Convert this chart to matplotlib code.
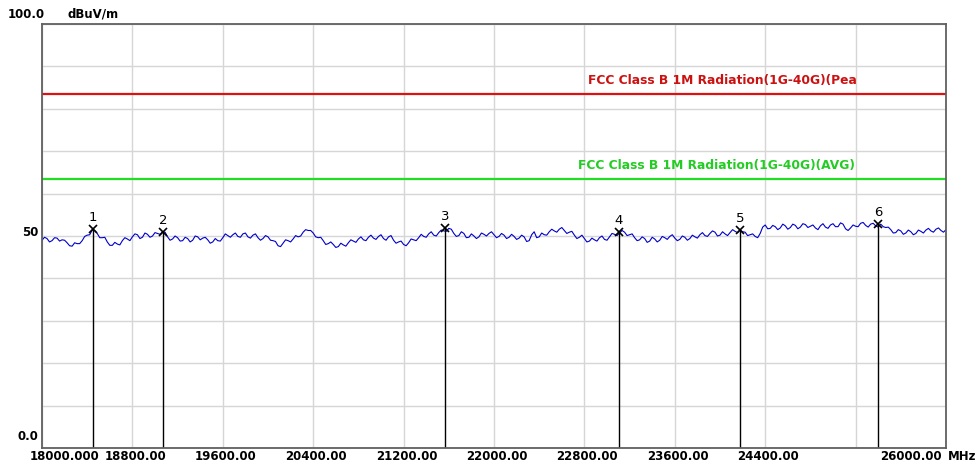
import numpy as np
import matplotlib.pyplot as plt

plt.rcParams['font.family'] = ['DejaVu Sans']

# sweep 18 GHz - 26 GHz, levels in dBuV/m
freq = np.linspace(18000, 26000, 361)
level = [
    49.0, 49.7, 49.4, 48.6, 48.9, 49.6, 49.5, 48.8, 49.1, 49.0,
    48.4, 47.7, 47.6, 48.4, 48.2, 48.2, 48.9, 49.9, 50.2, 50.3,
    51.4, 51.3, 50.6, 49.6, 49.6, 49.7, 48.6, 47.8, 47.8, 48.5,
    48.1, 47.9, 48.9, 49.6, 49.3, 48.9, 49.8, 50.5, 50.3, 49.4,
    49.7, 50.7, 50.4, 49.7, 50.0, 50.8, 50.6, 50.4, 51.0, 50.9,
    49.8, 49.0, 49.3, 50.0, 49.6, 48.8, 48.9, 49.7, 49.4, 48.6,
    49.0, 50.0, 49.8, 49.1, 49.5, 49.7, 49.1, 48.3, 48.6, 49.4,
    48.9, 48.8, 49.6, 50.5, 50.1, 49.7, 50.3, 50.7, 49.9, 49.7,
    50.5, 50.7, 49.8, 49.5, 50.2, 50.5, 49.6, 49.0, 49.4, 50.1,
    49.8, 49.0, 48.9, 48.7, 47.7, 47.5, 48.3, 49.1, 48.9, 48.6,
    49.3, 50.1, 49.8, 50.0, 50.9, 51.5, 51.3, 51.3, 50.7, 49.8,
    49.6, 49.7, 48.9, 48.0, 48.2, 48.6, 48.0, 47.3, 47.5, 48.3,
    47.9, 47.6, 48.4, 49.1, 48.8, 48.5, 49.3, 49.8, 49.1, 48.9,
    49.7, 50.2, 49.5, 49.2, 49.9, 50.3, 49.4, 49.0, 49.8, 50.1,
    49.0, 48.3, 48.6, 48.8, 48.0, 47.7, 48.4, 49.3, 49.1, 48.9,
    49.6, 50.4, 49.9, 49.7, 50.5, 51.0, 50.2, 50.0, 50.8, 51.4,
    51.2, 51.1, 51.8, 51.6, 50.6, 49.9, 50.1, 51.0, 50.6, 49.6,
    49.7, 50.5, 50.0, 49.4, 49.8, 50.7, 50.4, 50.0, 50.6, 51.0,
    50.3, 49.6, 49.9, 50.6, 50.2, 49.4, 49.7, 50.4, 49.9, 49.2,
    49.5, 50.2, 49.8, 48.7, 48.9, 50.3, 51.0, 49.6, 49.8, 50.7,
    50.3, 50.2, 51.0, 51.6, 51.2, 50.9, 51.6, 52.0, 51.3, 50.6,
    50.9, 51.1, 50.2, 49.4, 49.7, 50.2, 49.4, 48.6, 48.8, 49.5,
    49.1, 48.8, 49.6, 50.0, 49.2, 49.0, 49.8, 50.6, 50.4, 50.1,
    50.7, 51.3, 50.9, 50.1, 50.3, 50.5, 49.6, 48.9, 49.1, 49.8,
    49.4, 48.5, 48.8, 49.7, 49.3, 48.6, 49.0, 49.9, 49.6, 49.2,
    49.9, 50.3, 49.5, 48.9, 49.2, 50.0, 49.7, 49.0, 49.4, 50.2,
    49.8, 49.5, 50.3, 50.8, 50.1, 49.9, 50.6, 51.2, 50.9, 50.0,
    50.2, 51.0, 50.5, 50.1, 50.8, 51.5, 51.1, 50.8, 51.4, 51.0,
    50.9, 50.1, 50.3, 50.5, 49.9, 49.6, 50.6, 52.1, 52.6, 51.7,
    51.8, 52.5, 52.2, 51.5, 51.9, 52.8, 52.4, 51.6, 52.0, 52.8,
    52.5, 51.7, 52.1, 52.9, 52.7, 52.0, 52.3, 52.6, 51.9, 51.5,
    52.4, 52.9, 52.1, 51.8, 52.6, 52.9, 52.2, 52.2, 53.1, 52.8,
    51.7, 51.3, 51.9, 52.6, 52.3, 52.2, 53.0, 53.2, 52.5, 52.1,
    52.8, 53.0, 52.4, 52.1, 52.8, 52.2, 52.0, 52.1, 51.5, 50.7,
    50.8, 51.5, 51.2, 50.4, 50.7, 51.4, 51.0, 50.3, 50.6, 51.4,
    51.1, 50.7, 51.4, 51.8, 51.2, 50.9, 51.6, 51.9, 51.3, 50.9,
    51.5,
]

marker_freq = [18451, 19071, 21566, 23106, 24177, 25398]
marker_level = [51.6, 51.0, 51.9, 51.0, 51.4, 52.8]

peak_limit = 83.5
avg_limit = 63.5
peak_label = 'FCC Class B 1M Radiation(1G-40G)(Pea'
avg_label = 'FCC Class B 1M Radiation(1G-40G)(AVG)'

x_ticks = [18000, 18800, 19600, 20400, 21200, 22000,
           22800, 23600, 24400, 25200, 26000]
x_labels = ['18000.000', '18800.00', '19600.00', '20400.00', '21200.00',
            '22000.00', '22800.00', '23600.00', '24400.00', '', '26000.00']

fig = plt.figure(figsize=(9.78, 4.71), dpi=100)
ax = fig.add_axes([42 / 978, 23 / 471, 904 / 978, 424 / 471])
ax.set_xlim(18000, 26000)
ax.set_ylim(0, 100)
ax.set_xticks(x_ticks)
ax.set_yticks(range(0, 101, 10))
ax.grid(color='#d6d6d6', lw=1)
ax.tick_params(length=0, labelbottom=False, labelleft=False)
for s in ax.spines.values():
    s.set_color('#606060')
    s.set_linewidth(1.3)

ax.axhline(peak_limit, color='#dd1111', lw=1.6)
ax.axhline(avg_limit, color='#22dd22', lw=1.6)
ax.text(22832, 86.6, peak_label, color='#cc1111', fontsize=8.8,
        fontweight='bold', va='center')
ax.text(22744, 66.7, avg_label, color='#22cc22', fontsize=8.8,
        fontweight='bold', va='center')

ax.plot(freq, level, color='#0000cc', lw=0.8)

for i, (f, l) in enumerate(zip(marker_freq, marker_level)):
    ax.vlines(f, 0, l, color='black', lw=1)
    ax.plot(f, l, 'x', color='black', ms=6, mew=1.2)
    ax.annotate(str(i + 1), (f, l), xytext=(0, 5), textcoords='offset pixels',
                ha='center', va='bottom', fontsize=9.5)

# axis texts
for t, lbl in zip(x_ticks, x_labels):
    ha = 'center'
    dx = 3
    if lbl == '18000.000':
        ha, dx = 'left', -12
    elif lbl == '26000.00':
        ha, dx = 'right', -4
    ax.annotate(lbl, (t, 0), xycoords=('data', 'axes fraction'),
                xytext=(dx, -9), textcoords='offset pixels',
                ha=ha, va='center', fontsize=8.5, fontweight='bold')
ax.annotate('MHz', (1, 0), xycoords='axes fraction', xytext=(2, -9),
            textcoords='offset pixels', ha='left', va='center',
            fontsize=8.5, fontweight='bold')

ax.annotate('100.0', (0, 100), xycoords=('axes fraction', 'data'),
            xytext=(3, 10), textcoords='offset pixels', ha='right',
            va='center', fontsize=8.5, fontweight='bold')
ax.annotate('dBuV/m', (0, 100), xycoords=('axes fraction', 'data'),
            xytext=(25, 10), textcoords='offset pixels', ha='left',
            va='center', fontsize=8.5, fontweight='bold')
ax.annotate('50', (0, 50), xycoords=('axes fraction', 'data'),
            xytext=(-4, 3), textcoords='offset pixels', ha='right',
            va='center', fontsize=8.5, fontweight='bold')
ax.annotate('0.0', (0, 0), xycoords=('axes fraction', 'data'),
            xytext=(-4, 11), textcoords='offset pixels', ha='right',
            va='center', fontsize=8.5, fontweight='bold')

plt.savefig('out.png', dpi=100)
